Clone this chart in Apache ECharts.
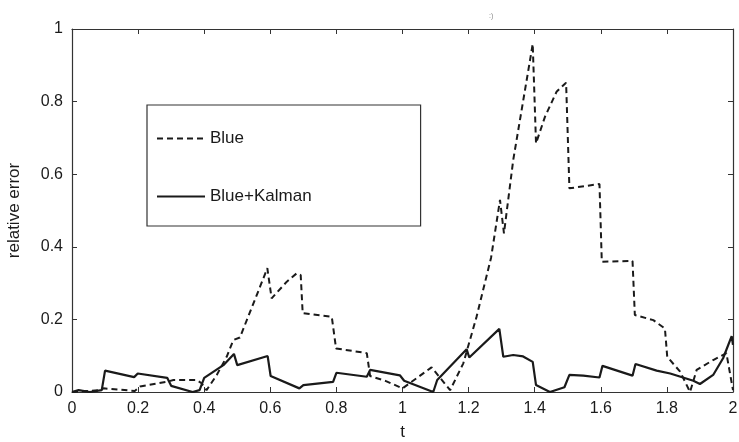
<!DOCTYPE html>
<html>
<head>
<meta charset="utf-8">
<script src="https://cdn.jsdelivr.net/npm/echarts@6/dist/echarts.min.js"></script>
<style>
  html, body { margin: 0; padding: 0; background: #fff; }
  #chart { width: 739px; height: 442px; }
</style>
</head>
<body>
<div id="chart"></div>
<script>
// x-axis ticks
const xTicks = [0, 0.2, 0.4, 0.6, 0.8, 1, 1.2, 1.4, 1.6, 1.8, 2];
const yTicks = [0, 0.2, 0.4, 0.6, 0.8, 1];

// "Blue" (dashed)
const blueT = [0, 0.085, 0.095, 0.19, 0.206, 0.286, 0.307, 0.377, 0.392, 0.407,
  0.438, 0.468, 0.488, 0.508, 0.569, 0.591, 0.604, 0.65, 0.68, 0.692,
  0.698, 0.786, 0.799, 0.892, 0.902, 0.95, 1.0, 1.088, 1.144, 1.184,
  1.224, 1.268, 1.295, 1.307, 1.335, 1.386, 1.394, 1.404, 1.431, 1.466,
  1.495, 1.505, 1.596, 1.603, 1.696, 1.703, 1.759, 1.794, 1.801, 1.84,
  1.87, 1.89, 1.94, 1.98, 2.0];
const blueV = [0, 0.005, 0.01, 0.003, 0.015, 0.028, 0.033, 0.033, 0.024, 0.005,
  0.047, 0.097, 0.143, 0.15, 0.29, 0.341, 0.258, 0.304, 0.327, 0.322,
  0.217, 0.207, 0.12, 0.107, 0.044, 0.03, 0.01, 0.068, 0.005, 0.079,
  0.207, 0.37, 0.529, 0.437, 0.639, 0.915, 0.959, 0.685, 0.758, 0.827,
  0.852, 0.561, 0.573, 0.359, 0.361, 0.212, 0.198, 0.175, 0.097, 0.056,
  0, 0.061, 0.088, 0.107, 0.005];

// "Blue+Kalman" (solid)
const kalmanT = [0, 0.02, 0.054, 0.09, 0.1, 0.188, 0.199, 0.288, 0.3, 0.365,
  0.386, 0.4, 0.458, 0.49, 0.5, 0.592, 0.601, 0.688, 0.7, 0.79,
  0.8, 0.892, 0.902, 0.992, 1.005, 1.093, 1.105, 1.194, 1.202, 1.293,
  1.305, 1.335, 1.365, 1.394, 1.404, 1.446, 1.49, 1.505, 1.547, 1.596,
  1.605, 1.696, 1.705, 1.769, 1.81, 1.88, 1.9, 1.94, 1.97, 1.996, 2.0];
const kalmanV = [0, 0.005, 0, 0.005, 0.059, 0.041, 0.051, 0.039, 0.017, 0,
  0.005, 0.039, 0.074, 0.105, 0.074, 0.099, 0.044, 0.01, 0.019, 0.028,
  0.053, 0.042, 0.061, 0.046, 0.031, 0, 0.033, 0.118, 0.095, 0.174,
  0.097, 0.102, 0.098, 0.083, 0.019, 0, 0.013, 0.047, 0.045, 0.04,
  0.072, 0.045, 0.077, 0.059, 0.051, 0.031, 0.022, 0.047, 0.093, 0.154, 0.13];

const zip = (a, b) => a.map((t, i) => [t, b[i]]);
const font = "Liberation Sans, Arial, Helvetica, sans-serif";
const ink = "#1a1a1a";

const fmtX = (v) => {
  const hit = xTicks.find((t) => Math.abs(t - v) < 1e-6);
  return hit === undefined ? "" : String(hit);
};
const fmtY = (v) => {
  const hit = yTicks.find((t) => Math.abs(t - v) < 1e-6);
  return hit === undefined ? "" : String(hit);
};

const baseAxisLine = { show: true, onZero: false, lineStyle: { color: "#333", width: 1.2 } };
const tick = { show: true, inside: true, length: 5, lineStyle: { color: "#333", width: 1 } };

const chart = echarts.init(document.getElementById("chart"), null, { renderer: "canvas" });
chart.setOption({
  animation: false,
  backgroundColor: "#fff",
  title: {
    text: ":)",
    left: 484, top: 8,
    textStyle: { fontSize: 7, color: "#888", fontWeight: "normal", fontFamily: font },
  },
  grid: { left: 72, top: 29, right: 6, bottom: 50, outerBoundsMode: "none" },
  legend: {
    orient: "vertical",
    left: 147, top: 105,
    padding: [25, 109, 21, 9],
    itemWidth: 48, itemHeight: 14,
    itemGap: 41,
    borderColor: "#333", borderWidth: 1.2,
    backgroundColor: "#fff",
    itemStyle: { opacity: 0 },
    textStyle: { fontSize: 17, color: ink, fontFamily: font },
    data: ["Blue", "Blue+Kalman"],
  },
  xAxis: [
    {
      type: "value", min: 0, max: 2, interval: 0.2,
      name: "t", nameLocation: "middle", nameGap: 32,
      nameTextStyle: { fontSize: 17, color: ink, fontFamily: font },
      axisLine: baseAxisLine, axisTick: tick,
      axisLabel: { fontSize: 16, color: ink, fontFamily: font, margin: 9, formatter: fmtX },
      splitLine: { show: false },
    },
    {
      type: "value", min: 0, max: 2, interval: 0.2, position: "top",
      axisLine: baseAxisLine, axisTick: tick,
      axisLabel: { show: false }, splitLine: { show: false },
    },
  ],
  yAxis: [
    {
      type: "value", min: 0, max: 1, interval: 0.2,
      name: "relative error", nameLocation: "middle", nameGap: 49,
      nameTextStyle: { fontSize: 17, color: ink, fontFamily: font },
      axisLine: baseAxisLine, axisTick: tick,
      axisLabel: { fontSize: 16, color: ink, fontFamily: font, margin: 9, formatter: fmtY },
      splitLine: { show: false },
    },
    {
      type: "value", min: 0, max: 1, interval: 0.2, position: "right",
      axisLine: baseAxisLine, axisTick: tick,
      axisLabel: { show: false }, splitLine: { show: false },
    },
  ],
  series: [
    {
      name: "Blue", type: "line", data: zip(blueT, blueV),
      symbol: "none", smooth: false,
      lineStyle: { color: ink, width: 2, type: [6, 4] },
      itemStyle: { color: ink },
    },
    {
      name: "Blue+Kalman", type: "line", data: zip(kalmanT, kalmanV),
      symbol: "none", smooth: false,
      lineStyle: { color: ink, width: 2.2 },
      itemStyle: { color: ink },
    },
  ],
});
</script>
</body>
</html>
